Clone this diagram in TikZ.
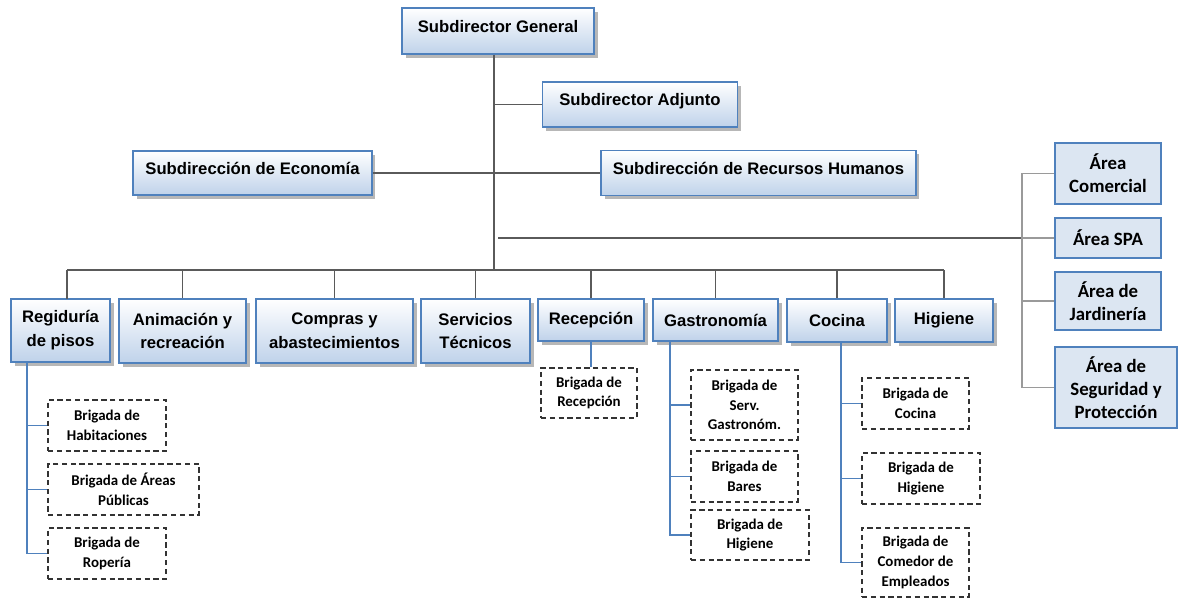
\documentclass[tikz,border=0pt]{standalone}
\usepackage{fontspec}
\setmainfont{Liberation Sans}
\newfontfamily\calibri{Carlito}
\usetikzlibrary{shadows}

\definecolor{boxblue}{HTML}{4F81BD}
\definecolor{boxshade}{HTML}{BFD2EA}
\definecolor{areafill}{HTML}{DCE6F2}
\definecolor{linegray}{HTML}{5A5A5A}
\definecolor{bracketgray}{HTML}{9A9A9A}

\tikzset{
  topbox/.style={draw=boxblue, line width=0.9pt, top color=white, bottom color=boxshade,
    drop shadow={shadow xshift=2pt, shadow yshift=-2pt, fill=black!40, opacity=0.7},
    font=\fontsize{9.5}{13.6}\selectfont\bfseries, align=center, inner sep=2pt},
  headbox/.style={topbox, text height=0.25cm, text depth=0.2cm},
  areabox/.style={draw=boxblue, line width=1.5pt, fill=areafill,
    font=\calibri\fontsize{10.7}{13}\selectfont\bfseries, align=center, inner sep=1pt},
  brigbox/.style={draw=black!80, line width=0.8pt, dash pattern=on 3pt off 2pt,
    font=\calibri\fontsize{8.5}{11.2}\selectfont\bfseries, align=center, inner sep=1pt},
  orgline/.style={draw=linegray, line width=0.7pt},
  subline/.style={draw=boxblue, line width=0.8pt},
  arealine/.style={draw=bracketgray, line width=0.8pt}
}

\begin{document}
\begin{tikzpicture}[x=0.02cm, y=-0.02cm]
\useasboundingbox (0,0) rectangle (1179,599);

% direction
\node[headbox, minimum width=3.84cm, minimum height=0.92cm] (gen) at (498,31) {Subdirector General};
\node[headbox, minimum width=3.9cm, minimum height=0.9cm] (adj) at (640,104.5) {Subdirector Adjunto};
\node[headbox, minimum width=4.78cm, minimum height=0.88cm] (eco) at (252.5,173) {Subdirección de Economía};
\node[headbox, minimum width=6.3cm, minimum height=0.9cm] (rrhh) at (758.5,173) {Subdirección de Recursos Humanos};

% departments
\node[topbox, minimum width=1.98cm, minimum height=1.26cm] (reg) at (60.5,330.5) {Regiduría\\de pisos};
\node[topbox, minimum width=2.54cm, minimum height=1.28cm] (ani) at (182.5,331) {Animación y\\recreación};
\node[topbox, minimum width=3.14cm, minimum height=1.28cm] (com) at (334.5,331) {Compras y\\abastecimientos};
\node[topbox, minimum width=2.18cm, minimum height=1.28cm] (ser) at (475.5,331) {Servicios\\Técnicos};
\node[topbox, minimum width=2.12cm, minimum height=0.84cm] (rec) at (591,320) {Recepción};
\node[topbox, minimum width=2.5cm, minimum height=0.84cm] (gas) at (715.5,320) {Gastronomía};
\node[topbox, minimum width=2.0cm, minimum height=0.86cm] (coc) at (837,320.5) {Cocina};
\node[topbox, minimum width=1.96cm, minimum height=0.86cm] (hig) at (944,320.5) {Higiene};

% areas
\node[areabox, minimum width=2.12cm, minimum height=1.22cm] (ac) at (1108,173.5) {Área\\Comercial};
\node[areabox, minimum width=2.12cm, minimum height=0.8cm] (spa) at (1108,238) {Área SPA};
\node[areabox, minimum width=2.12cm, minimum height=1.16cm] (jar) at (1108,301) {Área de\\Jardinería};
\node[areabox, minimum width=2.44cm, minimum height=1.62cm] (seg) at (1116,387.5) {Área de\\Seguridad y\\Protección};

% brigades
\node[brigbox, minimum width=2.36cm, minimum height=1.02cm] (bhab) at (107,425.5) {Brigada de\\Habitaciones};
\node[brigbox, minimum width=3.02cm, minimum height=1.02cm] (bpub) at (123.5,489.5) {Brigada de Áreas\\Públicas};
\node[brigbox, minimum width=2.36cm, minimum height=1.02cm] (brop) at (107,553.5) {Brigada de\\Ropería};
\node[brigbox, minimum width=1.92cm, minimum height=1.0cm] (brec) at (589,393) {Brigada de\\Recepción};
\node[brigbox, minimum width=2.14cm, minimum height=1.4cm] (bgas) at (744.5,405) {Brigada de\\Serv.\\Gastronóm.};
\node[brigbox, minimum width=2.14cm, minimum height=1.02cm] (bbar) at (744.5,476.5) {Brigada de\\Bares};
\node[brigbox, minimum width=2.36cm, minimum height=1.0cm] (bhga) at (750,535) {Brigada de\\Higiene};
\node[brigbox, minimum width=2.14cm, minimum height=1.02cm] (bcoc) at (915.5,403.5) {Brigada de\\Cocina};
\node[brigbox, minimum width=2.36cm, minimum height=1.02cm] (bhgc) at (921,478.5) {Brigada de\\Higiene};
\node[brigbox, minimum width=2.14cm, minimum height=1.38cm] (bcom) at (915.5,562.5) {Brigada de\\Comedor de\\Empleados};

% trunk
\coordinate (bus) at (494,270);
\coordinate (spaleft) at (498,238);
\draw[orgline] (gen.south -| bus) -- (bus);
\draw[orgline] (bus |- adj.west) -- (adj.west);
\draw[orgline] (eco.east) -- (rrhh.west);
\draw[orgline] (spaleft) -- (spa.west);

% bus to departments
\coordinate (regdrop) at (67,299);
\draw[orgline] (regdrop |- bus) -- (hig.north |- bus);
\draw[orgline] (regdrop |- bus) -- (regdrop);
\foreach \n in {ani,com,ser,rec,gas,coc,hig}
  \draw[orgline] (\n.north |- bus) -- (\n.north);

% bracket of areas
\coordinate (areax) at (1022,0);
\draw[arealine] (ac.west) -- (ac.west -| areax) -- (seg.west -| areax) -- (seg.west);
\foreach \n in {spa,jar}
  \draw[arealine] (\n.west -| areax) -- (\n.west);

% brigade lines
\coordinate (regstem) at (27,362);
\coordinate (gasstem) at (670,341);
\coordinate (cocstem) at (841,342);
\draw[subline] (regstem) |- (brop.west);
\foreach \b in {bhab,bpub}
  \draw[subline] (regstem |- \b.west) -- (\b.west);
\draw[subline] (rec.south) -- (rec.south |- brec.north);
\draw[subline] (gasstem) |- (bhga.west);
\foreach \b in {bgas,bbar}
  \draw[subline] (gasstem |- \b.west) -- (\b.west);
\draw[subline] (cocstem) |- (bcom.west);
\foreach \b in {bcoc,bhgc}
  \draw[subline] (cocstem |- \b.west) -- (\b.west);

\end{tikzpicture}
\end{document}
